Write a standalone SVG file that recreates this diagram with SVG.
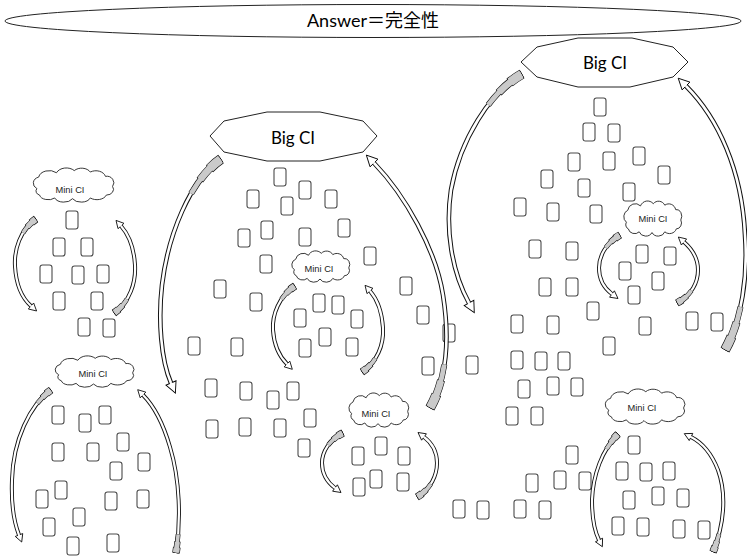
<svg xmlns="http://www.w3.org/2000/svg" width="747" height="557" viewBox="0 0 747 557">
<style>
.box{fill:#fff;stroke:#4a4a4a;stroke-width:1.1}
.cloud{fill:#fff;stroke:#222;stroke-width:0.9}
.mt{font-family:"Liberation Sans",Arial,sans-serif;font-size:9.3px;fill:#222;text-anchor:middle}
.poly{fill:#fff;stroke:#222;stroke-width:1}
.bt{font-family:Lato,"Liberation Sans",sans-serif;font-size:17px;fill:#000;text-anchor:middle}
.ans{font-family:Lato,"Noto Sans CJK JP",sans-serif;font-size:18px;fill:#000;text-anchor:middle}
.arr use{fill:none}
.b,.k1,.k2,.k3{stroke:#111}
.w{stroke:#fff}
.g1,.g2,.g3{stroke:#cacaca}
.mini .b{stroke-width:4}
.mini .w{stroke-width:2.2;marker-end:url(#hs)}
.mini .k1{stroke-width:7.6;stroke-dasharray:6 3000}
.mini .k2{stroke-width:6.2;stroke-dasharray:12 3000}
.mini .k3{stroke-width:4.8;stroke-dasharray:19 3000}
.mini .g1{stroke-width:6.4;stroke-dasharray:0 0.7 4.6 3000}
.mini .g2{stroke-width:5;stroke-dasharray:0 0.7 10.6 3000}
.mini .g3{stroke-width:3.6;stroke-dasharray:0 0.7 18.3 3000}
.big .b{stroke-width:4.6}
.big .w{stroke-width:2.6;marker-end:url(#hb)}
.big .k1{stroke-width:10;stroke-dasharray:15 3000}
.big .k2{stroke-width:8;stroke-dasharray:30 3000}
.big .k3{stroke-width:6;stroke-dasharray:46 3000}
.big .g1{stroke-width:8.8;stroke-dasharray:0 0.7 13.6 3000}
.big .g2{stroke-width:6.8;stroke-dasharray:0 0.7 28.6 3000}
.big .g3{stroke-width:4.8;stroke-dasharray:0 0.7 45.3 3000}
</style>
<defs>
<rect id="box" width="12" height="18" rx="2.5" ry="2.5"/>
<path id="cl" vector-effect="non-scaling-stroke" d="M10,30 A9,9 0 0 1 12,14 A12,11 0 0 1 32,8 A12,11 0 0 1 52,5 A11,10 0 0 1 70,7 A11,10 0 0 1 87,13 A8,9 0 0 1 95,27 A8,8 0 0 1 88,39 A11,9 0 0 1 70,43 A11,9 0 0 1 50,44 A11,9 0 0 1 30,43 A10,8 0 0 1 13,39 A6,6 0 0 1 10,30 Z"/>
<marker id="hs" markerUnits="userSpaceOnUse" viewBox="-1 -5 10 10" markerWidth="10" markerHeight="10" refX="0" refY="0" orient="auto" overflow="visible"><path d="M0,-1.1 L0,-4 L7.5,0 L0,4 L0,1.1" fill="#fff" stroke="#000" stroke-width="0.8"/></marker>
<marker id="hb" markerUnits="userSpaceOnUse" viewBox="-1 -6 14 12" markerWidth="14" markerHeight="12" refX="0" refY="0" orient="auto" overflow="visible"><path d="M0,-1.3 L0,-5.5 L11,0 L0,5.5 L0,1.3" fill="#fff" stroke="#000" stroke-width="0.9"/></marker>
<path id="A1" d="M36,219 C20,230 14,250 15,266 C16,284 22,298 31,306"/>
<path id="A2" d="M114,313 C130,302 136,282 135,265 C134,249 129,235 121,226"/>
<path id="A3" d="M51,390 C30,405 13,440 12,480 C11,505 14,522 19,535"/>
<path id="A4" d="M176,553 C181,520 180,480 170,447 C163,423 153,405 143,395"/>
<path id="A5" d="M295,286 C279,296 272,315 273,330 C274,345 279,356 287,364"/>
<path id="A6" d="M362,372 C377,362 384,345 383,328 C382,312 377,299 370,291"/>
<path id="A7" d="M343,433 C329,440 322,452 322,463 C322,474 327,482 335,488"/>
<path id="A8" d="M417,497 C431,489 437,475 437,463 C437,452 432,443 424,437"/>
<path id="A9" d="M620,235 C606,243 599,256 599,268 C599,280 604,288 612,294"/>
<path id="A10" d="M677,303 C692,295 698,282 698,270 C698,258 692,249 684,242"/>
<path id="A11" d="M618,434 C602,450 593,475 592,500 C592,518 594,530 599,540"/>
<path id="A12" d="M713,552 C724,525 727,495 718,470 C711,452 701,442 691,437"/>
<path id="B1" d="M221,159 C190,180 168,235 162,285 C158,320 161,360 171,383"/>
<path id="B2" d="M430,408 C446,380 450,340 443,295 C436,250 405,195 374,163"/>
<path id="B3" d="M522,74 C490,92 460,140 451,190 C445,230 452,272 469,303"/>
<path id="B4" d="M725,350 C742,320 748,275 745,235 C742,170 718,118 686,86"/>
</defs>
<rect width="747" height="557" fill="#fff"/>

<g id="answer">
<ellipse cx="373" cy="21" rx="368" ry="16.5" fill="#fff" stroke="#222" stroke-width="1"/>
<text class="ans" x="373" y="27">Answer＝完全性</text>
</g>

<g id="items-mini1">
<use href="#box" class="box" x="66" y="211"/><use href="#box" class="box" x="53" y="238"/><use href="#box" class="box" x="81" y="238"/><use href="#box" class="box" x="40" y="265"/><use href="#box" class="box" x="72" y="266"/><use href="#box" class="box" x="97" y="265"/><use href="#box" class="box" x="53" y="292"/><use href="#box" class="box" x="91" y="292"/><use href="#box" class="box" x="78" y="318"/><use href="#box" class="box" x="103" y="319"/>
</g>
<g id="items-mini2">
<use href="#box" class="box" x="52" y="406"/><use href="#box" class="box" x="79" y="414"/><use href="#box" class="box" x="99" y="406"/><use href="#box" class="box" x="117" y="433"/><use href="#box" class="box" x="52" y="443"/><use href="#box" class="box" x="87" y="443"/><use href="#box" class="box" x="138" y="453"/><use href="#box" class="box" x="110" y="462"/><use href="#box" class="box" x="55" y="481"/><use href="#box" class="box" x="36" y="490"/><use href="#box" class="box" x="105" y="492"/><use href="#box" class="box" x="137" y="490"/><use href="#box" class="box" x="73" y="508"/><use href="#box" class="box" x="43" y="518"/><use href="#box" class="box" x="67" y="537"/><use href="#box" class="box" x="107" y="534"/>
</g>
<g id="items-big1">
<use href="#box" class="box" x="274" y="168"/><use href="#box" class="box" x="299" y="181"/><use href="#box" class="box" x="247" y="190"/><use href="#box" class="box" x="281" y="197"/><use href="#box" class="box" x="325" y="190"/><use href="#box" class="box" x="261" y="221"/><use href="#box" class="box" x="238" y="229"/><use href="#box" class="box" x="299" y="228"/><use href="#box" class="box" x="338" y="219"/><use href="#box" class="box" x="364" y="247"/><use href="#box" class="box" x="260" y="255"/><use href="#box" class="box" x="400" y="277"/><use href="#box" class="box" x="214" y="280"/><use href="#box" class="box" x="250" y="293"/><use href="#box" class="box" x="188" y="337"/><use href="#box" class="box" x="231" y="338"/><use href="#box" class="box" x="205" y="379"/><use href="#box" class="box" x="240" y="382"/><use href="#box" class="box" x="267" y="391"/><use href="#box" class="box" x="287" y="382"/><use href="#box" class="box" x="304" y="409"/><use href="#box" class="box" x="206" y="420"/><use href="#box" class="box" x="239" y="418"/><use href="#box" class="box" x="274" y="419"/><use href="#box" class="box" x="298" y="439"/><use href="#box" class="box" x="417" y="306"/><use href="#box" class="box" x="443" y="324"/><use href="#box" class="box" x="422" y="357"/><use href="#box" class="box" x="466" y="356"/>
</g>
<g id="items-mini3">
<use href="#box" class="box" x="313" y="294"/><use href="#box" class="box" x="332" y="296"/><use href="#box" class="box" x="294" y="309"/><use href="#box" class="box" x="351" y="310"/><use href="#box" class="box" x="319" y="328"/><use href="#box" class="box" x="299" y="339"/><use href="#box" class="box" x="346" y="338"/>
</g>
<g id="items-mini4">
<use href="#box" class="box" x="375" y="437"/><use href="#box" class="box" x="352" y="447"/><use href="#box" class="box" x="398" y="447"/><use href="#box" class="box" x="370" y="470"/><use href="#box" class="box" x="353" y="478"/><use href="#box" class="box" x="397" y="473"/>
</g>
<g id="items-big2">
<use href="#box" class="box" x="594" y="98"/><use href="#box" class="box" x="583" y="123"/><use href="#box" class="box" x="608" y="124"/><use href="#box" class="box" x="568" y="153"/><use href="#box" class="box" x="603" y="152"/><use href="#box" class="box" x="633" y="147"/><use href="#box" class="box" x="658" y="166"/><use href="#box" class="box" x="541" y="170"/><use href="#box" class="box" x="578" y="179"/><use href="#box" class="box" x="623" y="183"/><use href="#box" class="box" x="514" y="198"/><use href="#box" class="box" x="547" y="203"/><use href="#box" class="box" x="590" y="205"/><use href="#box" class="box" x="529" y="240"/><use href="#box" class="box" x="566" y="242"/><use href="#box" class="box" x="539" y="278"/><use href="#box" class="box" x="566" y="278"/><use href="#box" class="box" x="587" y="302"/><use href="#box" class="box" x="511" y="315"/><use href="#box" class="box" x="547" y="316"/><use href="#box" class="box" x="639" y="317"/><use href="#box" class="box" x="686" y="312"/><use href="#box" class="box" x="711" y="313"/><use href="#box" class="box" x="603" y="337"/><use href="#box" class="box" x="511" y="351"/><use href="#box" class="box" x="535" y="352"/><use href="#box" class="box" x="558" y="352"/><use href="#box" class="box" x="518" y="380"/><use href="#box" class="box" x="547" y="377"/><use href="#box" class="box" x="571" y="378"/><use href="#box" class="box" x="506" y="407"/><use href="#box" class="box" x="531" y="407"/><use href="#box" class="box" x="566" y="446"/><use href="#box" class="box" x="526" y="474"/><use href="#box" class="box" x="554" y="471"/><use href="#box" class="box" x="579" y="472"/><use href="#box" class="box" x="453" y="500"/><use href="#box" class="box" x="477" y="501"/><use href="#box" class="box" x="514" y="500"/><use href="#box" class="box" x="539" y="501"/>
</g>
<g id="items-mini5">
<use href="#box" class="box" x="636" y="245"/><use href="#box" class="box" x="664" y="247"/><use href="#box" class="box" x="619" y="262"/><use href="#box" class="box" x="652" y="272"/><use href="#box" class="box" x="628" y="286"/>
</g>
<g id="items-mini6">
<use href="#box" class="box" x="628" y="436"/><use href="#box" class="box" x="616" y="462"/><use href="#box" class="box" x="640" y="463"/><use href="#box" class="box" x="663" y="462"/><use href="#box" class="box" x="623" y="491"/><use href="#box" class="box" x="652" y="487"/><use href="#box" class="box" x="677" y="489"/><use href="#box" class="box" x="612" y="517"/><use href="#box" class="box" x="637" y="518"/><use href="#box" class="box" x="673" y="520"/><use href="#box" class="box" x="698" y="521"/>
</g>

<g id="bigci-1">
<polygon class="poly" points="210,136 224,121 267,112 320,112 363,121 377,136 363,152 320,161 267,161 224,152"/>
<text class="bt" x="293" y="144">Big CI</text>
</g>
<g id="bigci-2">
<polygon class="poly" points="521,62 537,47 578,38 632,38 673,47 688,62 673,77 630,87 578,87 537,77"/>
<text class="bt" x="605" y="69">Big CI</text>
</g>

<g id="minici-1"><use href="#cl" class="cloud" transform="translate(28,167) scale(0.89,0.72)"/><text class="mt" x="70" y="193">Mini CI</text></g>
<g id="minici-2"><use href="#cl" class="cloud" transform="translate(50,355) scale(0.87,0.66)"/><text class="mt" x="93" y="377">Mini CI</text></g>
<g id="minici-3"><use href="#cl" class="cloud" transform="translate(288,250) scale(0.64,0.66)"/><text class="mt" x="319" y="272">Mini CI</text></g>
<g id="minici-4"><use href="#cl" class="cloud" transform="translate(345,392) scale(0.66,0.72)"/><text class="mt" x="376" y="417">Mini CI</text></g>
<g id="minici-5"><use href="#cl" class="cloud" transform="translate(620,200) scale(0.64,0.74)"/><text class="mt" x="653" y="222">Mini CI</text></g>
<g id="minici-6"><use href="#cl" class="cloud" transform="translate(600,388) scale(0.88,0.74)"/><text class="mt" x="642" y="411">Mini CI</text></g>

<g id="connectors">
<g class="arr mini"><use href="#A1" class="b"/><use href="#A1" class="w"/><use href="#A1" class="k1"/><use href="#A1" class="k2"/><use href="#A1" class="k3"/><use href="#A1" class="g1"/><use href="#A1" class="g2"/><use href="#A1" class="g3"/></g>
<g class="arr mini"><use href="#A2" class="b"/><use href="#A2" class="w"/><use href="#A2" class="k1"/><use href="#A2" class="k2"/><use href="#A2" class="k3"/><use href="#A2" class="g1"/><use href="#A2" class="g2"/><use href="#A2" class="g3"/></g>
<g class="arr mini"><use href="#A3" class="b"/><use href="#A3" class="w"/><use href="#A3" class="k1"/><use href="#A3" class="k2"/><use href="#A3" class="k3"/><use href="#A3" class="g1"/><use href="#A3" class="g2"/><use href="#A3" class="g3"/></g>
<g class="arr mini"><use href="#A4" class="b"/><use href="#A4" class="w"/><use href="#A4" class="k1"/><use href="#A4" class="k2"/><use href="#A4" class="k3"/><use href="#A4" class="g1"/><use href="#A4" class="g2"/><use href="#A4" class="g3"/></g>
<g class="arr mini"><use href="#A5" class="b"/><use href="#A5" class="w"/><use href="#A5" class="k1"/><use href="#A5" class="k2"/><use href="#A5" class="k3"/><use href="#A5" class="g1"/><use href="#A5" class="g2"/><use href="#A5" class="g3"/></g>
<g class="arr mini"><use href="#A6" class="b"/><use href="#A6" class="w"/><use href="#A6" class="k1"/><use href="#A6" class="k2"/><use href="#A6" class="k3"/><use href="#A6" class="g1"/><use href="#A6" class="g2"/><use href="#A6" class="g3"/></g>
<g class="arr mini"><use href="#A7" class="b"/><use href="#A7" class="w"/><use href="#A7" class="k1"/><use href="#A7" class="k2"/><use href="#A7" class="k3"/><use href="#A7" class="g1"/><use href="#A7" class="g2"/><use href="#A7" class="g3"/></g>
<g class="arr mini"><use href="#A8" class="b"/><use href="#A8" class="w"/><use href="#A8" class="k1"/><use href="#A8" class="k2"/><use href="#A8" class="k3"/><use href="#A8" class="g1"/><use href="#A8" class="g2"/><use href="#A8" class="g3"/></g>
<g class="arr mini"><use href="#A9" class="b"/><use href="#A9" class="w"/><use href="#A9" class="k1"/><use href="#A9" class="k2"/><use href="#A9" class="k3"/><use href="#A9" class="g1"/><use href="#A9" class="g2"/><use href="#A9" class="g3"/></g>
<g class="arr mini"><use href="#A10" class="b"/><use href="#A10" class="w"/><use href="#A10" class="k1"/><use href="#A10" class="k2"/><use href="#A10" class="k3"/><use href="#A10" class="g1"/><use href="#A10" class="g2"/><use href="#A10" class="g3"/></g>
<g class="arr mini"><use href="#A11" class="b"/><use href="#A11" class="w"/><use href="#A11" class="k1"/><use href="#A11" class="k2"/><use href="#A11" class="k3"/><use href="#A11" class="g1"/><use href="#A11" class="g2"/><use href="#A11" class="g3"/></g>
<g class="arr mini"><use href="#A12" class="b"/><use href="#A12" class="w"/><use href="#A12" class="k1"/><use href="#A12" class="k2"/><use href="#A12" class="k3"/><use href="#A12" class="g1"/><use href="#A12" class="g2"/><use href="#A12" class="g3"/></g>
<g class="arr big"><use href="#B1" class="b"/><use href="#B1" class="w"/><use href="#B1" class="k1"/><use href="#B1" class="k2"/><use href="#B1" class="k3"/><use href="#B1" class="g1"/><use href="#B1" class="g2"/><use href="#B1" class="g3"/></g>
<g class="arr big"><use href="#B2" class="b"/><use href="#B2" class="w"/><use href="#B2" class="k1"/><use href="#B2" class="k2"/><use href="#B2" class="k3"/><use href="#B2" class="g1"/><use href="#B2" class="g2"/><use href="#B2" class="g3"/></g>
<g class="arr big"><use href="#B3" class="b"/><use href="#B3" class="w"/><use href="#B3" class="k1"/><use href="#B3" class="k2"/><use href="#B3" class="k3"/><use href="#B3" class="g1"/><use href="#B3" class="g2"/><use href="#B3" class="g3"/></g>
<g class="arr big"><use href="#B4" class="b"/><use href="#B4" class="w"/><use href="#B4" class="k1"/><use href="#B4" class="k2"/><use href="#B4" class="k3"/><use href="#B4" class="g1"/><use href="#B4" class="g2"/><use href="#B4" class="g3"/></g>
</g>
</svg>
